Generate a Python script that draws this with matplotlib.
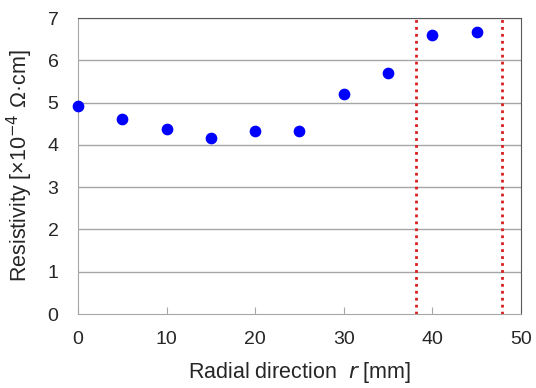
import matplotlib
matplotlib.use("Agg")
from matplotlib import pyplot as plt

plt.rcParams['font.family'] = ['Liberation Sans', 'DejaVu Sans']

r_mm = [0, 5, 10, 15, 20, 25, 30, 35, 40, 45]
resistivity = [4.92, 4.61, 4.37, 4.17, 4.32, 4.32, 5.21, 5.70, 6.60, 6.66]
boundaries = [38.1, 47.9]
x_ticks = [0, 10, 20, 30, 40, 50]
y_ticks = [0, 1, 2, 3, 4, 5, 6, 7]

fig = plt.figure(figsize=(5.36, 3.88), dpi=100, facecolor='w')
ax = fig.add_axes([0.1455, 0.1907, 0.8265, 0.7629])

for yv in y_ticks[1:]:
    ax.axhline(yv, color='#a6a6a6', lw=1.0, zorder=1)

for b in boundaries:
    ax.axvline(b, color='#d62020', lw=2.0, ls=(0, (1, 1.5)), zorder=2)

ax.scatter(r_mm, resistivity, s=55, color='#0000ff', zorder=3, clip_on=False)

ax.set_xlim(0, 50)
ax.set_ylim(0, 7)
ax.set_xticks(x_ticks)
ax.set_yticks(y_ticks)
ax.tick_params(axis='x', direction='in', length=5, color='#a6a6a6', labelsize=14, pad=12, labelcolor='#262626')
ax.tick_params(axis='y', length=0, labelsize=14, pad=14, labelcolor='#262626')

for side in ['left', 'bottom']:
    ax.spines[side].set_color('#a6a6a6')
for side in ['top', 'right']:
    ax.spines[side].set_color('#595959')

ax.set_xlabel('Radial direction  $\\it{r}$ [mm]', fontsize=15.5, color='#262626', labelpad=9)
ax.set_ylabel('Resistivity [×10$^{-4}$ Ω·cm]', fontsize=15.5, color='#262626', labelpad=9)

fig.savefig('out.png', dpi=100)
